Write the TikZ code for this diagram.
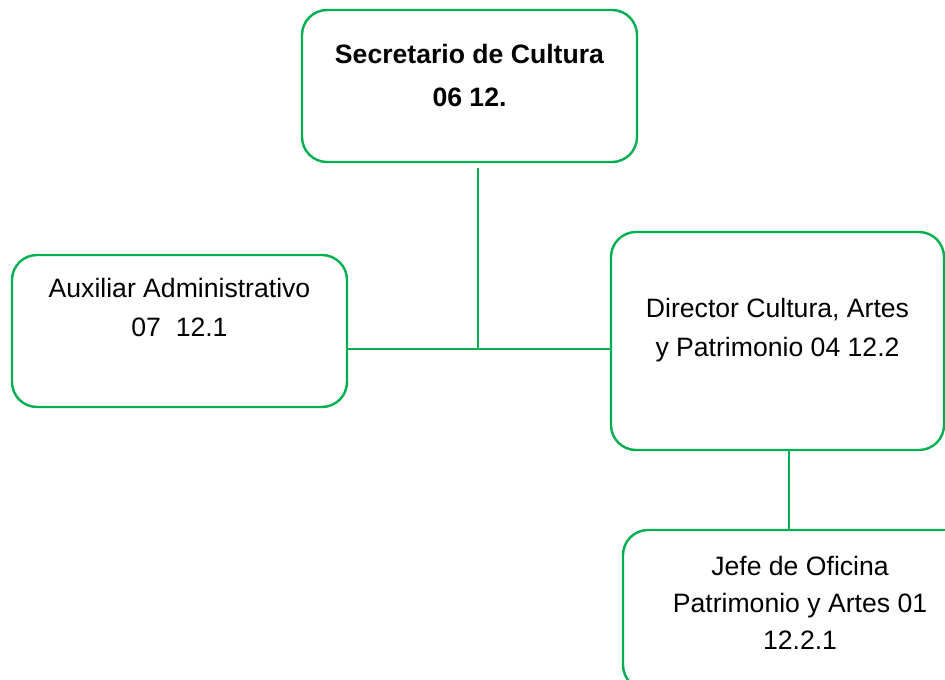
\documentclass[tikz,border=0pt]{standalone}
\usepackage{fontspec}
\setmainfont{Liberation Sans}
\usepackage{tikz}
\usetikzlibrary{positioning,calc}
\definecolor{orggreen}{HTML}{00B050}
\def\BoxWidth{167.5pt}
\def\BoxHeight{76pt}

\tikzset{
  orgbox/.style={draw=orggreen,line width=1.2pt,rounded corners=12.5pt,
    inner sep=0pt,minimum width=\BoxWidth,minimum height=\BoxHeight},
  orgtext/.style={inner sep=0pt,align=center,font=\fontsize{13.3}{19.5}\selectfont},
  link/.style={draw=orggreen,line width=1pt}
}

\begin{document}
\begin{tikzpicture}[x=0.5pt,y=-0.5pt]
  \useasboundingbox (0,0) rectangle (945,679);
  % boxes
  \node[orgbox,label={[orgtext,anchor=north,yshift=-17.5pt,font=\fontsize{13.3}{21.5}\selectfont\bfseries]north:{Secretario de Cultura\\06 12.}}] (sec) at (469.5,86) {};
  \node[orgbox,label={[orgtext,anchor=north,yshift=-12pt]north:{Auxiliar Administrativo\\07~~12.1}}] (aux) at (179.5,331) {};
  \node[orgbox,minimum width=166.5pt,minimum height=109pt,label={[orgtext,anchor=north,yshift=-33.5pt]north:{Director Cultura, Artes\\y Patrimonio 04 12.2}}] (dir) at (777.5,341) {};
  \node[orgbox,minimum width=177pt,minimum height=80pt,label={[orgtext,anchor=north,yshift=-13.5pt,font=\fontsize{13.3}{18.5}\selectfont]north:{Jefe de Oficina\\Patrimonio y Artes 01\\12.2.1}}] (jefe) at (800,610) {};
  % junctions
  \coordinate (secfoot) at (478,168);
  \coordinate (junc) at (478,349);
  \coordinate (dirfoot) at (789,450);
  % links
  \draw[link] (secfoot) -- (junc);
  \draw[link] (aux.east |- junc) -- (dir.west |- junc);
  \draw[link] (dirfoot) -- (dirfoot |- jefe.north);
\end{tikzpicture}
\end{document}
